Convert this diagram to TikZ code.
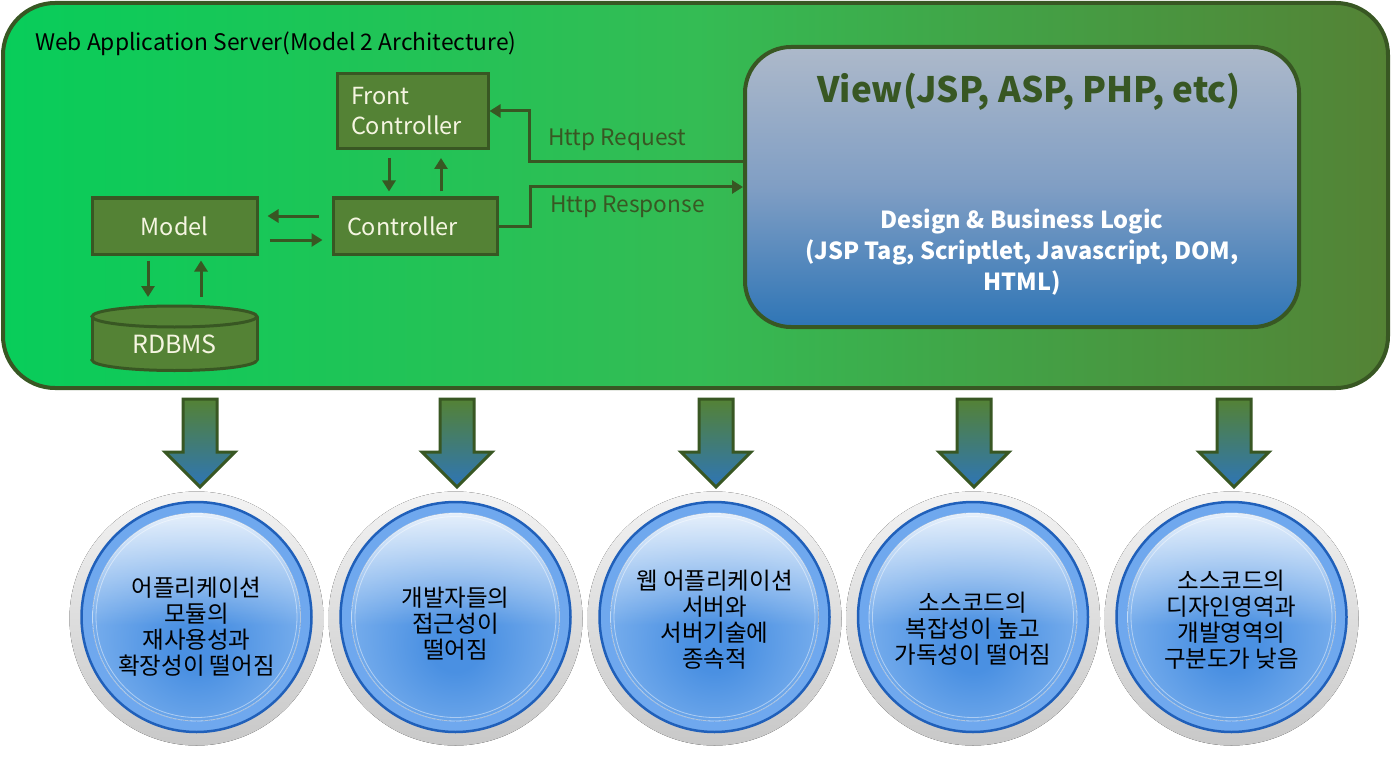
\documentclass[tikz,border=0pt]{standalone}
\usepackage{fontspec}
\setmainfont{Noto Sans CJK KR}
\usetikzlibrary{arrows.meta,fadings,calc}

\definecolor{dkgreen}{RGB}{56,87,35}
\definecolor{boxgreen}{RGB}{84,130,53}
\definecolor{cream}{RGB}{245,245,225}
\definecolor{wasleft}{RGB}{8,205,90}
\definecolor{wasmid}{RGB}{52,188,84}
\definecolor{wasright}{RGB}{84,130,53}
\definecolor{viewtop}{RGB}{173,185,202}
\definecolor{viewmid}{RGB}{128,158,196}
\definecolor{viewbot}{RGB}{46,117,182}
\definecolor{arrbot}{RGB}{46,117,182}
\definecolor{halotop}{RGB}{243,243,243}
\definecolor{halobot}{RGB}{200,200,200}
\definecolor{cband}{RGB}{111,168,238}
\definecolor{cborder}{RGB}{32,96,186}
\definecolor{gelc}{RGB}{74,144,226}
\definecolor{geledge}{RGB}{160,200,246}

\pgfdeclareradialshading{gel}{\pgfpoint{0bp}{-8bp}}{color(0bp)=(gelc); color(6bp)=(gelc); color(44bp)=(geledge); color(60bp)=(geledge)}

\tikzset{
  gbox/.style={draw=dkgreen, line width=3pt, fill=boxgreen, text=cream,
    font=\fontsize{23.5}{30}\selectfont, inner sep=0pt},
  conn/.style={draw=dkgreen, line width=3pt, -{Triangle[length=11pt,width=13pt]}},
  lbl/.style={text=dkgreen, font=\fontsize{22.7}{28}\selectfont, inner sep=0pt, anchor=west},
  ctext/.style={font=\fontsize{23.5}{26}\selectfont, align=center, inner sep=0pt, text=black},
  bigarrow/.style={draw=dkgreen, line width=3pt, top color=boxgreen, bottom color=arrbot, line join=miter},
}

\begin{document}
\begin{tikzpicture}[x=1pt,y=-1pt]
\useasboundingbox (0,0) rectangle (1391,762);
\fill[white] (0,0) rectangle (1391,762);

% outer server box
\node[draw=dkgreen, line width=4pt, rounded corners=52pt, minimum width=1385pt, minimum height=385pt,
  left color=wasleft, right color=wasright, middle color=wasmid, inner sep=0pt] (was) at (695.5,195.5) {};
\node[anchor=west, inner sep=0pt, font=\fontsize{22.8}{26}\selectfont, text=black] (title) at (35,44) {Web Application Server(Model 2 Architecture)};

% boxes
\node[gbox, minimum width=151pt, minimum height=75pt, text width=123pt, align=left] (fc) at (412.5,111) {Front\\Controller};
\node[gbox, minimum width=164pt, minimum height=56pt, text width=136pt, align=left] (ctrl) at (415,226) {Controller};
\node[gbox, minimum width=165pt, minimum height=56pt] (model) at (174.5,226) {Model};

% RDBMS cylinder
\filldraw[draw=dkgreen, line width=3pt, fill=boxgreen] (174.5,360) ellipse [x radius=82.5, y radius=10.5];
\fill[boxgreen] (92,316.5) rectangle (257,360);
\draw[dkgreen, line width=3pt] (92,316.5) -- (92,360) (257,316.5) -- (257,360);
\filldraw[draw=dkgreen, line width=3pt, fill=boxgreen] (174.5,316.5) ellipse [x radius=82.5, y radius=10.5];
\node[text=cream, font=\fontsize{25}{30}\selectfont, inner sep=0pt] (rdbms) at (174.5,344) {RDBMS};
\coordinate (dbtop) at (174.5,306);

% view box
\node[draw=dkgreen, line width=4pt, rounded corners=46pt, minimum width=554pt, minimum height=280pt,
  top color=viewtop, bottom color=viewbot, middle color=viewmid, inner sep=0pt] (view) at (1022,187) {};
\node[text=dkgreen, font=\bfseries\fontsize{35}{40}\selectfont, inner sep=0pt] (viewtitle) at (1029,92) {View(JSP, ASP, PHP, etc)};
\node[text=white, font=\bfseries\fontsize{23.5}{31}\selectfont, align=center, inner sep=0pt] (viewbody) at (1022,252) {Design \& Business Logic\\(JSP Tag, Scriptlet, Javascript, DOM,\\HTML)};

% internal connectors
\draw[conn] ([xshift=-23.5pt,yshift=-8pt]fc.south) -- ([xshift=-26pt,yshift=5pt]ctrl.north);
\draw[conn] ([xshift=26pt,yshift=5pt]ctrl.north) -- ([xshift=28.5pt,yshift=-8pt]fc.south);
\draw[conn] ([xshift=-13pt,yshift=10pt]ctrl.west) -- ([xshift=9pt,yshift=10pt]model.east);
\draw[conn] ([xshift=11pt,yshift=-14pt]model.east) -- ([xshift=-9pt,yshift=-14pt]ctrl.west);
\draw[conn] ([xshift=-26.5pt,yshift=-5pt]model.south) -- ([xshift=-26.5pt,yshift=9pt]dbtop);
\draw[conn] ([xshift=26.5pt,yshift=9pt]dbtop) -- ([xshift=26.5pt,yshift=-5pt]model.south);

% http connectors
\draw[conn] ([yshift=25pt]view.west) -- ++(-214,0) |- (fc.east);
\draw[conn] (ctrl.east) -- ++(32,0) |- (view.west);
\node[lbl] (req) at (548,140) {Http Request};
\node[lbl] (resp) at (550,207) {Http Response};

% big arrows and circles
\foreach \ax/\cx in {200/196.5, 457/455.5, 716/714.5, 974/973, 1234/1231.5}{
  \path[bigarrow] (\ax-17,399) -- (\ax+17,399) -- (\ax+17,452) -- (\ax+35,452) -- (\ax,487) -- (\ax-35,452) -- (\ax-17,452) -- cycle;
  \fill[top color=halotop, bottom color=halobot] (\cx,618.5) circle [radius=127];
  \filldraw[fill=cband, draw=cborder, line width=2.5pt] (\cx,617) circle [radius=115];
  \fill[shading=gel] (\cx,617) circle [radius=104];
  \begin{scope}
    \clip (\cx,617) circle [radius=104];
    \fill[white, fill opacity=0.8, path fading=south] (\cx-104,513) rectangle (\cx+104,625);
  \end{scope}
  \draw[white, opacity=0.55, line width=0.8pt] (\cx,617) circle [radius=104];
  \draw[white, opacity=0.45, line width=0.8pt] (\cx,617) circle [radius=100.5];
}

\node[ctext] (c1) at (196.5,627) {어플리케이션\\모듈의\\재사용성과\\확장성이 떨어짐};
\node[ctext] (c2) at (455.5,624) {개발자들의\\접근성이\\떨어짐};
\node[ctext] (c3) at (714.5,620) {웹 어플리케이션\\서버와\\서버기술에\\종속적};
\node[ctext] (c4) at (973,629) {소스코드의\\복잡성이 높고\\가독성이 떨어짐};
\node[ctext] (c5) at (1231.5,620) {소스코드의\\디자인영역과\\개발영역의\\구분도가 낮음};
\end{tikzpicture}
\end{document}
